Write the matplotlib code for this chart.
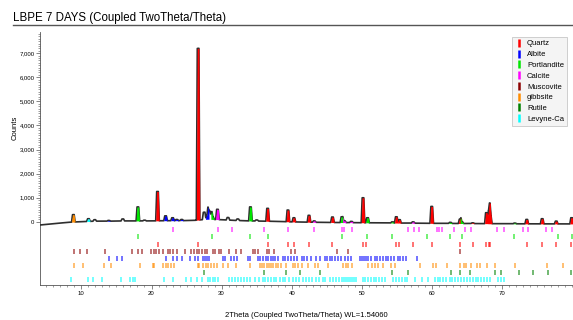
import matplotlib.pyplot as plt
import numpy as np
from matplotlib.lines import Line2D
from matplotlib.ticker import FixedLocator, MultipleLocator, FuncFormatter

plt.rcParams['font.family'] = ['Liberation Sans', 'DejaVu Sans']

# phases (legend order)
phase_names = ["Quartz", "Albite", "Portlandite", "Calcite", "Muscovite", "gibbsite", "Rutile", "Levyne-Ca"]
phase_colors = ["#ff0000", "#0000ff", "#00e600", "#ff00ff", "#8b0000", "#ff8c00", "#008000", "#00ffff"]

# measured background of the scan
bg_theta = [4.1, 6, 8, 10, 12, 14, 16, 18, 20, 22, 24, 26, 28, 30, 32, 34, 36, 38, 40, 44, 48, 52, 56, 60, 66, 72, 80.2]
bg_counts = [-130, -80, -20, 10, 30, 30, 40, 40, 40, 50, 50, 60, 110, 90, 60, 40, 30, 20, 0, -20, -30, -40, -50, -60, -70, -80, -85]

# peaks: position (2theta), apex counts, phase used to colour the peak
peak_pos = [8.85, 11.0, 11.9, 13.9, 15.9, 18.05, 19.0, 20.85, 22.0, 23.0, 23.6, 24.3,
            26.64, 27.5, 27.95, 28.15, 28.5, 28.7, 29.4, 30.9, 32.3, 34.1, 35.0, 36.55,
            39.45, 40.3, 42.45, 43.2, 45.8, 47.15, 47.5, 48.5, 50.15, 50.8, 54.35, 54.9,
            55.35, 57.3, 59.95, 62.6, 64.0, 64.25, 65.8, 67.75, 68.15, 68.3, 71.8, 73.5,
            75.7, 77.7, 79.9]
peak_counts = [300, 130, 90, 60, 120, 620, 70, 1260, 250, 170, 100, 100,
               7200, 400, 280, 440, 330, 200, 520, 180, 120, 620, 80, 560,
               490, 170, 270, 40, 200, 210, 40, 20, 1000, 170, 0, 210,
               90, 0, 640, -20, 110, 0, -40, 380, 460, 250, -50, 100,
               130, 30, 170]
peak_phase = ["gibbsite", "Levyne-Ca", None, "Albite", None, "Portlandite", None, "Quartz", "Albite", "Albite", "Albite", "Albite",
              "Quartz", None, "Albite", None, None, "Portlandite", "Calcite", None, None, "Portlandite", None, "Quartz",
              "Quartz", "Quartz", "Quartz", "Calcite", "Quartz", "Portlandite", "Calcite", "Calcite", "Quartz", "Portlandite", "Portlandite", "Quartz",
              "Quartz", "Calcite", "Quartz", "Portlandite", "Quartz", "Portlandite", "Quartz", "Quartz", "Quartz", "Quartz", "Portlandite", "Quartz",
              "Quartz", "Quartz", "Quartz"]

# reference stick patterns
sticks = {
    "Calcite": [23.06, 29.41, 31.44, 35.97, 39.42, 43.16, 47.12, 47.51, 48.52, 56.57, 57.41, 58.10,
                60.68, 61.01, 61.39, 63.07, 64.68, 65.62, 69.21, 70.25, 72.92, 73.70, 76.32, 77.17],
    "Portlandite": [18.09, 28.66, 34.09, 36.6, 47.12, 50.79, 54.34, 59.35, 62.55, 64.23, 71.75, 77.9, 79.9],
    "Quartz": [20.86, 26.64, 36.54, 39.47, 40.29, 42.45, 45.79, 50.14, 50.62, 54.87, 55.33, 57.24,
               59.96, 63.99, 65.79, 67.74, 68.14, 68.32, 73.47, 75.66, 77.67, 79.88],
    "Muscovite": [8.9, 9.8, 10.8, 13.3, 17.2, 18.1, 18.6, 19.9, 20.3, 20.7, 21.0, 21.7, 22.3, 22.7,
                  23.0, 23.7, 24.8, 25.7, 26.1, 26.5, 26.8, 27.2, 27.6, 27.9, 28.7, 29.1, 29.6, 29.9,
                  31.0, 32.1, 32.8, 34.5, 34.8, 35.2, 36.4, 36.8, 37.5, 39.9, 40.5, 46.4, 48.0, 64.0],
    "Albite": [13.9, 15.1, 15.8, 22.0, 23.0, 23.6, 24.3, 25.5, 26.2, 26.6, 27.3, 27.6, 27.9, 28.2,
               30.2, 30.5, 31.4, 31.8, 32.2, 33.7, 34.1, 35.2, 35.5, 35.9, 36.3, 36.6, 37.0, 37.3,
               37.6, 38.0, 38.7, 39.1, 39.5, 39.9, 40.3, 40.8, 41.4, 41.8, 42.2, 42.7, 43.5, 44.0,
               44.7, 45.0, 45.4, 45.8, 46.2, 46.6, 47.0, 47.6, 48.0, 48.4, 49.7, 50.0, 50.3, 50.6,
               50.9, 51.3, 51.8, 52.2, 52.6, 53.0, 53.4, 53.7, 54.2, 54.6, 55.1, 55.5, 55.9, 56.3, 57.9],
    "gibbsite": [9.0, 10.2, 13.2, 14.2, 18.3, 20.2, 20.4, 21.7, 22.0, 22.3, 22.8, 23.2, 26.6, 26.8,
                 27.3, 27.8, 28.1, 28.5, 28.9, 29.4, 30.2, 30.9, 32.1, 34.0, 35.5, 35.8, 36.1, 36.4,
                 36.7, 37.0, 37.3, 37.8, 38.1, 38.5, 39.2, 40.2, 40.5, 40.9, 41.4, 42.3, 43.3, 43.7,
                 45.2, 47.3, 47.7, 48.0, 48.6, 50.9, 51.4, 51.8, 52.3, 53.0, 54.1, 54.7, 58.3, 60.2,
                 60.6, 62.1, 64.0, 64.5, 64.9, 65.6, 66.4, 66.8, 67.9, 69.0, 71.8, 76.4, 78.7],
    "Rutile": [27.45, 36.09, 39.19, 41.24, 44.05, 54.32, 56.64, 62.74, 64.04, 65.48, 69.01, 69.79,
               72.41, 74.41, 76.51, 79.82],
    "Levyne-Ca": [8.5, 10.9, 11.6, 13.0, 15.6, 17.0, 17.3, 17.6, 21.8, 23.0, 24.9, 25.7, 26.5, 27.2,
                  28.0, 28.4, 28.7, 29.1, 29.5, 31.1, 31.5, 31.9, 32.3, 32.8, 33.2, 33.6, 34.1, 34.8,
                  35.3, 35.9, 36.2, 36.6, 37.0, 37.4, 37.8, 38.3, 38.7, 39.1, 39.6, 40.2, 40.6, 41.0,
                  41.6, 42.0, 42.5, 42.9, 43.5, 43.9, 44.4, 44.8, 45.4, 45.9, 46.3, 46.8, 47.1, 47.4,
                  47.7, 48.0, 48.3, 48.6, 48.9, 49.2, 50.1, 50.5, 50.9, 51.3, 51.7, 52.0, 52.5, 52.9,
                  53.3, 54.5, 54.9, 55.3, 55.7, 56.1, 56.5, 57.5, 58.5, 59.4, 60.4, 60.8, 61.2, 61.6,
                  62.0, 62.5, 62.9, 63.3, 63.7, 64.2, 64.6, 65.0, 65.4, 65.8, 66.2, 66.6, 67.0, 67.4,
                  67.8, 68.2, 69.4, 69.8, 70.3],
}
stick_rows = ["Calcite", "Portlandite", "Quartz", "Muscovite", "Albite", "gibbsite", "Rutile", "Levyne-Ca"]

color_of = dict(zip(phase_names, phase_colors))

fig = plt.figure(figsize=(5.73, 3.2), dpi=100)
ax = fig.add_axes([40 / 573, 1 - 285 / 320, 533 / 573, 253 / 320])

# scan curve: flat-topped peaks on the background
x = np.arange(4.1, 80.15, 0.01)
base = np.interp(x, bg_theta, bg_counts)
curve = base.copy()
outer, inner = 0.25, 0.12
for p, h in zip(peak_pos, peak_counts):
    b = np.interp(p, bg_theta, bg_counts)
    shape = np.clip((outer - np.abs(x - p)) / (outer - inner), 0, 1)
    curve += shape * max(h - b, 0)

ax.plot(x, curve, color="#2e2e2e", lw=1.2, zorder=3)
for p, ph in zip(peak_pos, peak_phase):
    if ph is None:
        continue
    m = np.abs(x - p) <= outer
    ax.fill_between(x[m], base[m], curve[m], color=color_of[ph], lw=0, zorder=4)

# stick rows below the scan
for i, ph in enumerate(stick_rows):
    yc = -330 - i * 296
    ax.vlines(sticks[ph], yc - 105, yc + 105, colors=color_of[ph], lw=1.1, alpha=0.7, zorder=2)

ax.set_xlim(4.1, 80.1)
ax.set_ylim(-2620, 7880)
for s in ["top", "right"]:
    ax.spines[s].set_visible(False)
for s in ["left", "bottom"]:
    ax.spines[s].set_linewidth(0.6)
    ax.spines[s].set_color("#555555")

ax.xaxis.set_major_locator(FixedLocator([10, 20, 30, 40, 50, 60, 70]))
ax.xaxis.set_minor_locator(MultipleLocator(1))
ax.yaxis.set_major_locator(FixedLocator(range(0, 7001, 1000)))
ax.yaxis.set_minor_locator(FixedLocator(range(0, 7801, 100)))
ax.yaxis.set_major_formatter(FuncFormatter(lambda v, pos: "{:,.0f}".format(v)))
ax.tick_params(which="major", length=3, width=0.5, labelsize=4.3, pad=1, color="#555555")
ax.tick_params(which="minor", length=1.5, width=0.4, color="#555555")

ax.set_ylabel("Counts", fontsize=5.5)
ax.yaxis.set_label_coords(-0.041, 0.62)
ax.set_xlabel("2Theta (Coupled TwoTheta/Theta) WL=1.54060", fontsize=5.5)
ax.xaxis.set_label_coords(0.5, -0.107)

handles = [Line2D([], [], color=c, marker="|", linestyle="None", markersize=6, markeredgewidth=1.8)
           for c in phase_colors]
leg = ax.legend(handles, phase_names, loc="upper right", bbox_to_anchor=(0.989, 0.98), fontsize=5.5,
                frameon=True, fancybox=False, handlelength=1.0, handletextpad=0.6, labelspacing=0.45,
                borderpad=0.4, borderaxespad=0)
leg.get_frame().set_facecolor("#f2f2f2")
leg.get_frame().set_edgecolor("#bbbbbb")
leg.get_frame().set_linewidth(0.6)

fig.text(13 / 573, 1 - 18 / 320, "LBPE 7 DAYS (Coupled TwoTheta/Theta)", fontsize=8.3, va="center")
fig.add_artist(Line2D([13 / 573, 1], [1 - 25 / 320, 1 - 25 / 320], color="#555555", lw=1))

fig.savefig("out.png", dpi=100)
